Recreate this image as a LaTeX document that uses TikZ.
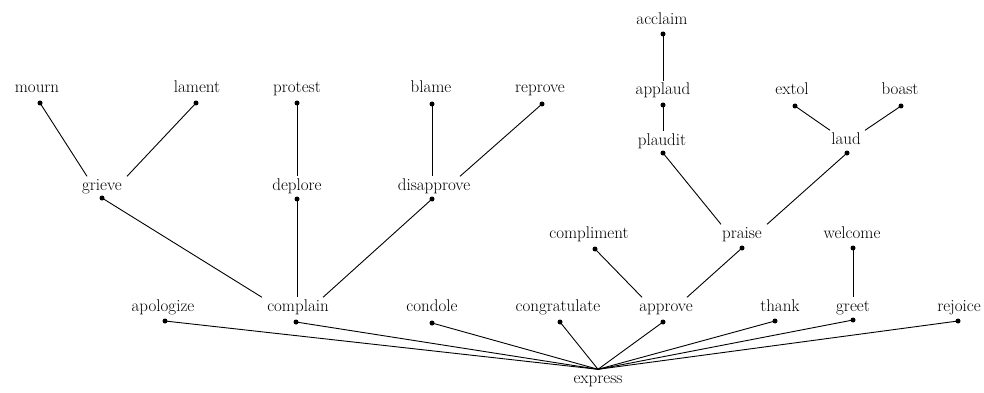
\documentclass[tikz,border=0pt]{standalone}
\usetikzlibrary{calc}
\begin{document}
\begin{tikzpicture}[x=1pt,y=-1pt,
  word/.style={anchor=base,inner xsep=0pt,inner ysep=1.5pt,text height=12pt,text depth=4pt,font=\fontsize{17}{20}\selectfont},
  dotn/.style={circle,fill=black,inner sep=0pt,minimum size=5pt},
  edge/.style={draw=black,line width=0.9pt}]
\useasboundingbox[fill=white] (0,0) rectangle (984,393);
% words
\node[word] (mourn) at (37,93) {mourn};
\node[word] (lament) at (197,93) {lament};
\node[word] (protest) at (297,93) {protest};
\node[word] (blame) at (431,93) {blame};
\node[word] (reprove) at (540,93) {reprove};
\node[word] (acclaim) at (662,25) {acclaim};
\node[word] (applaud) at (663,95) {applaud};
\node[word] (extol) at (792,95) {extol};
\node[word] (boast) at (900,95) {boast};
\node[word] (plaudit) at (662,145) {plaudit};
\node[word] (laud) at (846,144) {laud};
\node[word] (grieve) at (102,190) {grieve};
\node[word] (deplore) at (297,190) {deplore};
\node[word] (disapprove) at (434,190) {disapprove};
\node[word] (compliment) at (589,238) {compliment};
\node[word] (praise) at (742,238) {praise};
\node[word] (welcome) at (852,238) {welcome};
\node[word] (apologize) at (163,311) {apologize};
\node[word] (complain) at (298,311) {complain};
\node[word] (condole) at (432,311) {condole};
\node[word] (congratulate) at (558,311) {congratulate};
\node[word] (approve) at (666,311) {approve};
\node[word] (thank) at (780,311) {thank};
\node[word] (greet) at (853,311) {greet};
\node[word] (rejoice) at (959,311) {rejoice};
\node[word] (express) at (598,383) {express};
% dots
\node[dotn] (mournd) at (40,103) {};
\node[dotn] (lamentd) at (196,103) {};
\node[dotn] (protestd) at (297,103) {};
\node[dotn] (blamed) at (432,104) {};
\node[dotn] (reproved) at (542,104) {};
\node[dotn] (acclaimd) at (663,34) {};
\node[dotn] (applaudd) at (663,105) {};
\node[dotn] (extold) at (795,106) {};
\node[dotn] (boastd) at (901,106) {};
\node[dotn] (plauditd) at (663,153) {};
\node[dotn] (laudd) at (847,153) {};
\node[dotn] (grieved) at (102,198) {};
\node[dotn] (deplored) at (297,199) {};
\node[dotn] (disapproved) at (432,199) {};
\node[dotn] (complimentd) at (595,249) {};
\node[dotn] (praised) at (742,248) {};
\node[dotn] (welcomed) at (853,248) {};
\node[dotn] (apologized) at (165,321) {};
\node[dotn] (complaind) at (296,322) {};
\node[dotn] (condoled) at (432,323) {};
\node[dotn] (congratulated) at (560,322) {};
\node[dotn] (approved) at (663,322) {};
\node[dotn] (thankd) at (775,321) {};
\node[dotn] (greetd) at (853,320) {};
\node[dotn] (rejoiced) at (958,321) {};
% connectors
\draw[edge] (mournd.center) -- ($(grieve.north)+(-15,0)$);
\draw[edge] (lamentd.center) -- ($(grieve.north)+(25,0)$);
\draw[edge] (protestd.center) -- (protestd |- deplore.north);
\draw[edge] (blamed.center) -- (blamed |- disapprove.north);
\draw[edge] (reproved.center) -- ($(disapprove.north)+(26,0)$);
\draw[edge] (acclaimd.center) -- (acclaimd |- applaud.north);
\draw[edge] (applaudd.center) -- (applaudd |- plaudit.north);
\draw[edge] (extold.center) -- ($(laud.north)+(-16,0)$);
\draw[edge] (boastd.center) -- ($(laud.north)+(19,0)$);
\draw[edge] (plauditd.center) -- ($(praise.north)+(-21,0)$);
\draw[edge] (laudd.center) -- ($(praise.north)+(25,0)$);
\draw[edge] (grieved.center) -- ($(complain.north)+(-36,0)$);
\draw[edge] (deplored.center) -- (deplored |- complain.north);
\draw[edge] (disapproved.center) -- ($(complain.north)+(25,0)$);
\draw[edge] (complimentd.center) -- ($(approve.north)+(-24,0)$);
\draw[edge] (praised.center) -- ($(approve.north)+(21,0)$);
\draw[edge] (welcomed.center) -- (welcomed |- greet.north);
\foreach \d in {apologized,complaind,condoled,congratulated,approved,thankd,greetd,rejoiced}
  \draw[edge] (\d.center) -- (express.north);
\end{tikzpicture}
\end{document}
